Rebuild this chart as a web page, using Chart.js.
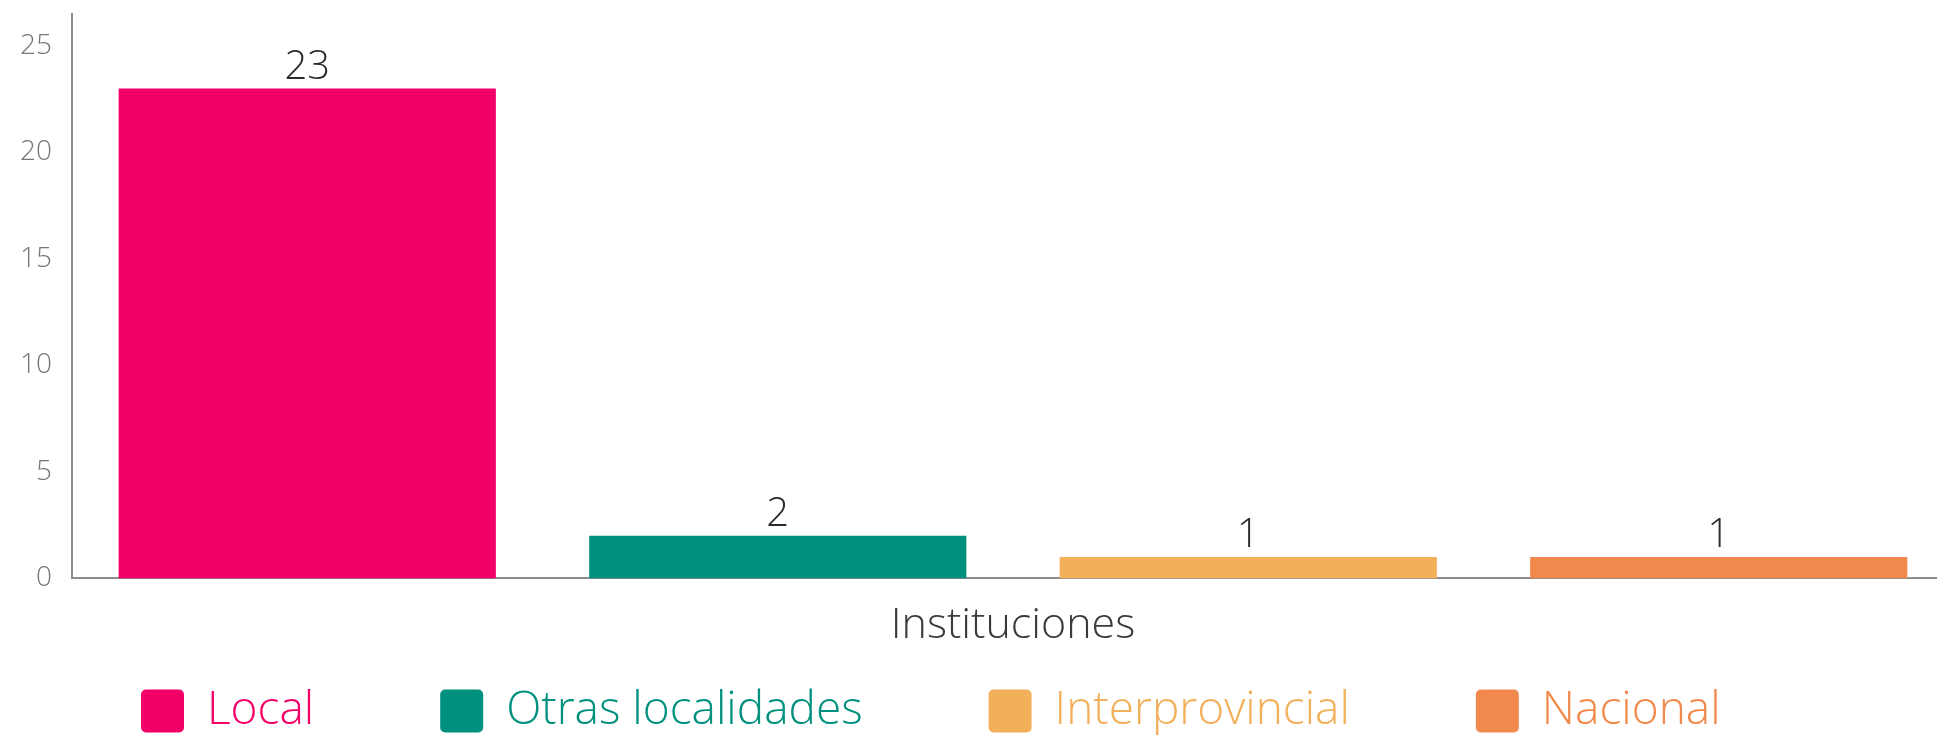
<!DOCTYPE html>
<html>
<head>
<meta charset="utf-8">
<script src="https://cdn.jsdelivr.net/npm/chart.js@4.4.1/dist/chart.umd.min.js"></script>
<style>
  html, body { margin: 0; padding: 0; background: #ffffff; }
  #wrap { width: 1937px; height: 735px; position: relative; }
</style>
</head>
<body>
<div id="wrap"><canvas id="c" width="1937" height="735"></canvas></div>
<script>
const categories = ['Instituciones'];
const seriesNames = ['Local', 'Otras localidades', 'Interprovincial', 'Nacional'];
const seriesValues = [23, 2, 1, 1];
const seriesColors = ['#F20068', '#00907E', '#F2B05B', '#F2894C'];
const yTicks = [0, 5, 10, 15, 20, 25];

const FONT = "'Open Sans', 'Noto Sans', sans-serif";
const LEGEND_FONT = 46;
const LEGEND_PAD = 126;
const LEGEND_H = 61;          // space the legend reserves below the axis
const LEGEND_CENTER_Y = 711;  // vertical centre of legend row
const LEGEND_LEFT = 15;       // legend.left so first box starts near 141
const PLOT_RIGHT = 1954;      // plot area extends slightly past the canvas edge

const datasets = seriesNames.map((name, i) => ({
  label: name,
  data: [seriesValues[i]],
  backgroundColor: seriesColors[i],
  borderWidth: 0,
  categoryPercentage: 1.0,
  barPercentage: 0.8017
}));

const valueLabels = {
  id: 'valueLabels',
  afterDatasetsDraw(chart) {
    const ctx = chart.ctx;
    ctx.save();
    ctx.font = `300 40px ${FONT}`;
    ctx.fillStyle = '#2b2b2b';
    ctx.textAlign = 'center';
    ctx.textBaseline = 'alphabetic';
    chart.data.datasets.forEach((ds, i) => {
      const meta = chart.getDatasetMeta(i);
      meta.data.forEach((el, j) => {
        ctx.fillText(String(ds.data[j]), el.x, el.y - 10);
      });
    });
    ctx.restore();
  }
};

const layoutTweaks = {
  id: 'layoutTweaks',
  beforeLayout(chart) {
    const lg = chart.legend;
    if (lg && !lg.__patched) {
      const origFit = lg.fit;
      lg.fit = function () { origFit.call(this); this.height = LEGEND_H; };
      lg.__patched = true;
    }
  },
  afterLayout(chart) {
    const lg = chart.legend;
    if (lg) {
      const newTop = LEGEND_CENTER_Y - LEGEND_FONT / 2 - LEGEND_PAD;
      lg.top = newTop; lg.bottom = chart.height;
      lg.height = lg.bottom - lg.top;
      const w = lg.right - lg.left;
      lg.left = LEGEND_LEFT; lg.right = LEGEND_LEFT + w;
    }
    const xs = chart.scales.x;
    xs.right = PLOT_RIGHT;
    xs.width = xs.right - xs.left;
    xs.configure();
    chart.chartArea.right = PLOT_RIGHT;
    chart.chartArea.width = PLOT_RIGHT - chart.chartArea.left;
  }
};

new Chart(document.getElementById('c'), {
  type: 'bar',
  data: { labels: categories, datasets },
  options: {
    responsive: false,
    animation: false,
    layout: { padding: { top: 14, left: 0, right: 0, bottom: 0 } },
    plugins: {
      tooltip: { enabled: false },
      legend: {
        position: 'bottom',
        align: 'start',
        labels: {
          boxWidth: 43,
          boxHeight: 43,
          padding: LEGEND_PAD,
          useBorderRadius: true,
          borderRadius: 5,
          font: { family: FONT, size: LEGEND_FONT, weight: '300' },
          generateLabels(chart) {
            const items = Chart.defaults.plugins.legend.labels.generateLabels(chart);
            items.forEach((it, i) => {
              it.fontColor = seriesColors[i];
              it.fillStyle = seriesColors[i];
              it.strokeStyle = seriesColors[i];
              it.lineWidth = 0;
            });
            return items;
          }
        }
      }
    },
    scales: {
      x: {
        z: 1,
        grid: { display: false, drawTicks: false },
        border: { display: true, color: '#8c8c8c', width: 2 },
        ticks: {
          padding: 22,
          color: '#3a3a3a',
          font: { family: FONT, size: 43, weight: '300' }
        }
      },
      y: {
        min: 0,
        max: 26.5,
        afterFit(scale) { scale.width = 72; scale.paddingTop = 0; scale.paddingBottom = 0; },
        afterBuildTicks(scale) { scale.ticks = yTicks.map(v => ({ value: v })); },
        grid: { display: false, drawTicks: false },
        border: { display: true, color: '#8c8c8c', width: 2 },
        ticks: {
          padding: 20,
          color: '#767676',
          font: { family: FONT, size: 28, weight: '300' }
        }
      }
    }
  },
  plugins: [valueLabels, layoutTweaks]
});
</script>
</body>
</html>
